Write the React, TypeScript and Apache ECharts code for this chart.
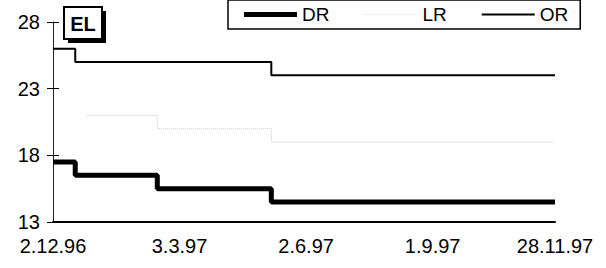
import React, { useEffect, useRef } from "react";
import * as echarts from "echarts";

// x values are days since 2.12.96
const tickDays = [0, 91, 182, 273, 361];
const tickLabels = ["2.12.96", "3.3.97", "2.6.97", "1.9.97", "28.11.97"];
const yTicks = [13, 18, 23, 28];

const seriesNames = ["DR", "LR", "OR"];
const drDays = [0, 16, 75, 157, 361];
const drValues = [17.5, 16.5, 15.5, 14.5, 14.5];
const lrDays = [24, 75, 157, 360];
const lrValues = [21, 20, 19, 19];
const orDays = [0, 16, 157, 361];
const orValues = [26, 25, 24, 24];

const FONT = "Liberation Sans, Arial, sans-serif";

const zip = (xs: number[], ys: number[]) => xs.map((x, i) => [x, ys[i]]);

export default function App() {
  const ref = useRef<HTMLDivElement>(null);
  useEffect(() => {
    if (!ref.current) return;
    const chart = echarts.init(ref.current, null, { renderer: "svg" });
    const labelMap: Record<number, string> = {};
    tickDays.forEach((d, i) => (labelMap[d] = tickLabels[i]));
    const icons = [
      "path://M0,0h53v5h-53z",
      "path://M0,0h53v1h-53z",
      "path://M0,0h53v2h-53z",
    ];
    const iconColors = ["#000", "#eeeeee", "#000"];
    chart.setOption({
      animation: false,
      backgroundColor: "#fff",
      grid: { left: 53, right: 51, top: 22, bottom: 46, containLabel: false },
      legend: {
        data: seriesNames.map((n, i) => ({ name: n, icon: icons[i], itemStyle: { color: iconColors[i] } })),
        left: 228,
        top: 0,
        padding: [5, 12, 5, 16],
        borderColor: "#000",
        borderWidth: 1.5,
        itemWidth: 53,
        itemHeight: 14,
        itemGap: 35,
        textStyle: { fontSize: 19, color: "#000", fontFamily: FONT },
      },
      xAxis: {
        type: "value",
        min: 0,
        max: 361,
        interval: 91,
        axisLine: { show: true, lineStyle: { color: "#000", width: 2 } },
        axisTick: { show: false },
        splitLine: { show: false },
        axisLabel: {
          margin: 14,
          fontSize: 20,
          color: "#000",
          fontFamily: FONT,
          formatter: (v: number) => labelMap[v] ?? "",
        },
      },
      yAxis: [
        {
          type: "value",
          min: 13,
          max: 28,
          axisLine: { show: true, lineStyle: { color: "#222", width: 1 } },
          axisTick: { show: true, inside: false, length: 6, customValues: yTicks, lineStyle: { color: "#000", width: 1 } },
          splitLine: { show: false },
          axisLabel: { customValues: yTicks, margin: 13, fontSize: 20, color: "#000", fontFamily: FONT },
        },
        {
          type: "value",
          position: "left",
          min: 13,
          max: 28,
          axisLine: { show: false },
          axisTick: { show: true, inside: true, length: 6, customValues: yTicks, lineStyle: { color: "#000", width: 1 } },
          splitLine: { show: false },
          axisLabel: { show: false },
        },
      ],
      series: [
        {
          name: "DR",
          type: "line",
          step: "end",
          symbol: "none",
          data: zip(drDays, drValues),
          lineStyle: { color: "#000", width: 5 },
          itemStyle: { color: "#000" },
        },
        {
          name: "LR",
          type: "line",
          step: "end",
          symbol: "none",
          data: zip(lrDays, lrValues),
          lineStyle: { color: "#c8c8c8", width: 1, type: "dotted" },
          itemStyle: { color: "#eeeeee" },
        },
        {
          name: "OR",
          type: "line",
          step: "end",
          symbol: "none",
          data: zip(orDays, orValues),
          lineStyle: { color: "#000", width: 2 },
          itemStyle: { color: "#000" },
        },
      ],
      graphic: [
        {
          type: "group",
          left: 63,
          top: 6,
          children: [
            { type: "rect", shape: { x: 4, y: 4, width: 38, height: 32 }, style: { fill: "#000" } },
            { type: "rect", shape: { x: 0, y: 0, width: 38, height: 32 }, style: { fill: "#fff", stroke: "#000", lineWidth: 2 } },
            {
              type: "text",
              x: 19,
              y: 17,
              style: {
                text: "EL",
                fontSize: 20,
                fontWeight: "bold",
                fontFamily: FONT,
                fill: "#000",
                align: "center",
                verticalAlign: "middle",
              },
            },
          ],
        },
      ],
    });
    return () => chart.dispose();
  }, []);
  return (
    <div
      ref={ref}
      style={{ position: "absolute", left: 0, top: 0, width: 606, height: 268 }}
    />
  );
}
